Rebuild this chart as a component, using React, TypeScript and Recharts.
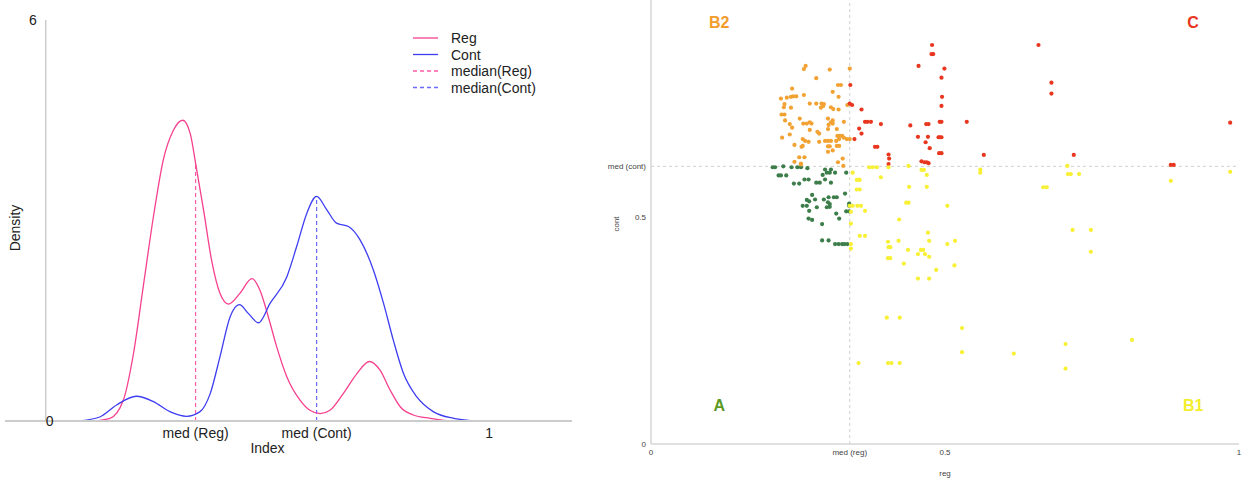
import React from 'react';
import {
  LineChart, Line, XAxis, YAxis, ReferenceLine, ReferenceDot, Legend,
  ScatterChart, Scatter,
} from 'recharts';

const FONT = '"Liberation Sans", Arial, sans-serif';

// ---------- Density panel data ----------
const MED_REG = 0.338;
const MED_CONT = 0.611;
const medRegDensity = 3.86;
const medContDensity = 3.36;

const regX = [0.107, 0.145, 0.175, 0.198, 0.22, 0.243, 0.265, 0.288, 0.309, 0.326, 0.338, 0.356, 0.374, 0.393, 0.412, 0.438, 0.465, 0.483, 0.502, 0.521, 0.544, 0.574, 0.596, 0.619, 0.641, 0.671, 0.702, 0.73, 0.754, 0.777, 0.8, 0.829, 0.867, 0.912];
const regY = [0, 0.04, 0.31, 1.01, 2.01, 3.06, 3.9, 4.35, 4.5, 4.3, 3.86, 3.16, 2.41, 1.91, 1.75, 1.91, 2.13, 1.96, 1.56, 1.11, 0.66, 0.31, 0.16, 0.11, 0.16, 0.41, 0.71, 0.89, 0.76, 0.46, 0.21, 0.09, 0.04, 0];

const contX = [0.074, 0.122, 0.16, 0.204, 0.243, 0.28, 0.318, 0.348, 0.371, 0.393, 0.416, 0.437, 0.457, 0.48, 0.506, 0.544, 0.566, 0.589, 0.611, 0.634, 0.656, 0.683, 0.709, 0.739, 0.762, 0.784, 0.807, 0.837, 0.874, 0.92, 0.976];
const contY = [0, 0.06, 0.24, 0.37, 0.29, 0.14, 0.07, 0.14, 0.41, 0.96, 1.56, 1.74, 1.61, 1.47, 1.76, 2.16, 2.61, 3.11, 3.36, 3.16, 2.96, 2.91, 2.71, 2.26, 1.76, 1.21, 0.71, 0.36, 0.14, 0.04, 0];

const densityTicks = [MED_REG, MED_CONT, 1];
const densityTickLabels = ['med (Reg)', 'med (Cont)', '1'];
const densityYTicks = [0, 6];

const legendLabels = ['Reg', 'Cont', 'median(Reg)', 'median(Cont)'];

// ---------- Scatter panel data ----------
const aPts = [[0.207,0.609],[0.211,0.609],[0.225,0.611],[0.239,0.609],[0.249,0.609],[0.255,0.609],[0.266,0.607],[0.296,0.604],[0.306,0.604],[0.292,0.592],[0.299,0.597],[0.304,0.597],[0.313,0.597],[0.332,0.597],[0.217,0.591],[0.221,0.591],[0.230,0.591],[0.261,0.582],[0.268,0.582],[0.296,0.582],[0.243,0.573],[0.252,0.573],[0.281,0.575],[0.287,0.575],[0.306,0.575],[0.274,0.548],[0.330,0.551],[0.265,0.537],[0.269,0.534],[0.279,0.538],[0.294,0.538],[0.302,0.543],[0.311,0.543],[0.316,0.543],[0.301,0.532],[0.304,0.528],[0.337,0.529],[0.337,0.524],[0.258,0.524],[0.265,0.524],[0.282,0.521],[0.299,0.521],[0.304,0.522],[0.269,0.513],[0.332,0.512],[0.337,0.512],[0.315,0.507],[0.268,0.496],[0.274,0.493],[0.320,0.496],[0.291,0.484],[0.291,0.448],[0.302,0.448],[0.313,0.440],[0.319,0.440],[0.325,0.440],[0.329,0.440],[0.334,0.440]];

const b2Pts = [[0.263,0.832],[0.260,0.825],[0.304,0.824],[0.338,0.826],[0.281,0.805],[0.323,0.790],[0.318,0.790],[0.240,0.782],[0.309,0.775],[0.260,0.768],[0.221,0.760],[0.231,0.762],[0.238,0.764],[0.242,0.765],[0.247,0.765],[0.319,0.764],[0.227,0.748],[0.270,0.749],[0.281,0.749],[0.290,0.749],[0.294,0.748],[0.334,0.746],[0.226,0.741],[0.238,0.740],[0.289,0.740],[0.293,0.744],[0.306,0.741],[0.310,0.737],[0.319,0.736],[0.222,0.725],[0.227,0.725],[0.253,0.716],[0.301,0.716],[0.228,0.712],[0.309,0.712],[0.259,0.705],[0.265,0.705],[0.270,0.708],[0.273,0.705],[0.306,0.708],[0.309,0.705],[0.302,0.702],[0.236,0.704],[0.328,0.709],[0.240,0.696],[0.270,0.691],[0.283,0.687],[0.286,0.683],[0.301,0.693],[0.316,0.693],[0.236,0.681],[0.223,0.674],[0.317,0.678],[0.321,0.678],[0.325,0.678],[0.328,0.674],[0.333,0.671],[0.338,0.671],[0.320,0.671],[0.258,0.671],[0.262,0.667],[0.268,0.665],[0.286,0.665],[0.296,0.667],[0.301,0.667],[0.306,0.667],[0.315,0.667],[0.258,0.656],[0.256,0.654],[0.244,0.658],[0.301,0.655],[0.304,0.655],[0.316,0.656],[0.320,0.656],[0.301,0.643],[0.309,0.646],[0.252,0.631],[0.261,0.631],[0.326,0.628],[0.244,0.621],[0.255,0.617],[0.318,0.620],[0.255,0.615],[0.327,0.612]];

const cPts = [[0.339,0.790],[0.338,0.749],[0.342,0.746],[0.358,0.736],[0.364,0.709],[0.368,0.709],[0.374,0.709],[0.391,0.704],[0.354,0.694],[0.346,0.671],[0.358,0.683],[0.381,0.654],[0.385,0.654],[0.404,0.637],[0.405,0.628],[0.404,0.616],[0.478,0.878],[0.477,0.858],[0.480,0.858],[0.455,0.832],[0.499,0.826],[0.494,0.806],[0.659,0.878],[0.681,0.795],[0.681,0.771],[0.495,0.764],[0.494,0.744],[0.494,0.709],[0.491,0.709],[0.537,0.709],[0.468,0.704],[0.472,0.704],[0.441,0.701],[0.454,0.676],[0.471,0.676],[0.489,0.675],[0.491,0.675],[0.494,0.675],[0.467,0.664],[0.474,0.651],[0.490,0.640],[0.494,0.640],[0.566,0.636],[0.719,0.636],[0.460,0.622],[0.465,0.620],[0.469,0.620],[0.472,0.618],[0.985,0.707],[0.884,0.614],[0.889,0.614]];

const b1Pts = [[0.343,0.597],[0.371,0.609],[0.377,0.609],[0.384,0.609],[0.404,0.609],[0.350,0.581],[0.353,0.582],[0.355,0.581],[0.391,0.587],[0.350,0.560],[0.355,0.560],[0.338,0.524],[0.343,0.524],[0.351,0.524],[0.357,0.524],[0.340,0.511],[0.364,0.513],[0.340,0.485],[0.355,0.458],[0.364,0.458],[0.340,0.440],[0.340,0.430],[0.403,0.445],[0.421,0.447],[0.422,0.494],[0.438,0.612],[0.460,0.603],[0.464,0.603],[0.469,0.592],[0.560,0.604],[0.560,0.597],[0.439,0.566],[0.469,0.566],[0.434,0.531],[0.438,0.531],[0.504,0.524],[0.471,0.465],[0.473,0.447],[0.517,0.447],[0.504,0.440],[0.404,0.433],[0.407,0.433],[0.437,0.427],[0.459,0.427],[0.463,0.427],[0.454,0.418],[0.466,0.418],[0.473,0.412],[0.403,0.409],[0.407,0.409],[0.430,0.397],[0.516,0.393],[0.485,0.383],[0.454,0.364],[0.473,0.364],[0.401,0.278],[0.423,0.278],[0.529,0.255],[0.529,0.202],[0.353,0.178],[0.403,0.178],[0.409,0.178],[0.423,0.178],[0.708,0.612],[0.709,0.594],[0.714,0.594],[0.728,0.594],[0.667,0.565],[0.673,0.565],[0.884,0.579],[0.985,0.599],[0.717,0.471],[0.748,0.471],[0.748,0.423],[0.705,0.220],[0.818,0.229],[0.705,0.166],[0.617,0.199]];

const scatterXTicks = [0, MED_REG, 0.5, 1];
const scatterXTickLabels = ['0', 'med (reg)', '0.5', '1'];
const scatterYTicks = [0, 0.5, MED_CONT];
const scatterYTickLabels = ['0', '0.5', 'med (cont)'];

const quadrantLabels = ['A', 'B1', 'B2', 'C'];

// ---------- styles ----------
const PINK = '#f5408f';
const BLUE = '#3d3df2';
const PINK_DASH = '#ff5aa6';
const BLUE_DASH = '#6a6aff';
const legendColors = [PINK, BLUE, PINK_DASH, BLUE_DASH];
const legendDashed = [false, false, true, true];

const GREEN = '#3c7d4a';
const ORANGE = '#f2a233';
const RED = '#e8361f';
const YELLOW = '#f7f034';
const quadColors = ['#5c9a23', '#f4ee2c', '#f29c2c', '#e8361f'];
const quadPos = [[0.116, 0.086], [0.922, 0.086], [0.116, 0.928], [0.922, 0.928]];

const regData = regX.map((x, i) => ({ x, y: regY[i] }));
const contData = contX.map((x, i) => ({ x, y: contY[i] }));
const toObjs = (pts: number[][]) => pts.map(([x, y]) => ({ x, y }));

const dotShape = (color: string) => (p: any) => (
  <circle cx={p.cx} cy={p.cy} r={2.1} fill={color} />
);

const ScatterYTick = (p: any) => {
  const idx = scatterYTicks.indexOf(p.payload.value);
  return (
    <text x={p.x} y={p.y} dy={3} textAnchor="end" fontSize={8} fill="#444" fontFamily={FONT}>
      {scatterYTickLabels[idx] ?? ''}
    </text>
  );
};

const ScatterXTick = (p: any) => {
  const idx = scatterXTicks.indexOf(p.payload.value);
  return (
    <text x={p.x} y={p.y} dy={6} textAnchor="middle" fontSize={8} fill="#444" fontFamily={FONT}>
      {scatterXTickLabels[idx] ?? ''}
    </text>
  );
};

const DensityLegend = () => (
  <svg width={160} height={70} style={{ display: 'block', fontFamily: FONT }}>
    {legendLabels.map((lab, i) => {
      const cy = 9 + i * 16.5;
      return (
        <g key={lab}>
          <line x1={0} x2={25} y1={cy} y2={cy} stroke={legendColors[i]} strokeWidth={1.3}
            strokeDasharray={legendDashed[i] ? '4 3' : undefined} />
          <text x={38} y={cy + 5} fontSize={14} fill="#222">{lab}</text>
        </g>
      );
    })}
  </svg>
);

export default function App() {
  return (
    <div style={{ position: 'absolute', left: 0, top: 0, width: 1254, height: 486, background: '#fff', fontFamily: FONT }}>
      {/* Left: density chart */}
      <div style={{ position: 'absolute', left: 0, top: 0 }}>
        <LineChart width={600} height={486} margin={{ top: 20, right: 28, bottom: 35, left: 5 }}>
          <XAxis
            type="number" dataKey="x" domain={[-0.0918, 1.187]} allowDataOverflow
            ticks={densityTicks}
            tickFormatter={(v: number) => densityTickLabels[densityTicks.indexOf(v)] ?? ''}
            tickLine={false} tickMargin={1}
            axisLine={{ stroke: '#cccccc', strokeWidth: 2 }}
            tick={{ fill: '#222', fontSize: 14, fontFamily: FONT }}
            height={30}
            label={{ value: 'Index', position: 'insideBottom', offset: -2, dx: -21, fill: '#222', fontSize: 14, fontFamily: FONT }}
          />
          <YAxis hide type="number" domain={[0, 6]} ticks={densityYTicks} />
          <ReferenceLine x={0} stroke="#cccccc" strokeWidth={1.5} />
          <ReferenceDot x={0} y={6} r={0} fill="none" stroke="none"
            label={{ value: String(densityYTicks[1]), position: 'left', offset: 9, fill: '#222', fontSize: 14, fontFamily: FONT }} />
          <ReferenceDot x={0} y={0} r={0} fill="none" stroke="none"
            label={{ value: String(densityYTicks[0]), position: 'right', offset: 0, fill: '#222', fontSize: 14, fontFamily: FONT }} />
          <ReferenceLine segment={[{ x: MED_REG, y: 0 }, { x: MED_REG, y: medRegDensity }]}
            stroke={PINK_DASH} strokeWidth={1.2} strokeDasharray="4 3" />
          <ReferenceLine segment={[{ x: MED_CONT, y: 0 }, { x: MED_CONT, y: medContDensity }]}
            stroke={BLUE_DASH} strokeWidth={1.2} strokeDasharray="4 3" />
          <Line data={regData} dataKey="y" name="Reg" type="monotone" stroke={PINK} strokeWidth={1.3}
            dot={false} activeDot={false} isAnimationActive={false} />
          <Line data={contData} dataKey="y" name="Cont" type="monotone" stroke={BLUE} strokeWidth={1.3}
            dot={false} activeDot={false} isAnimationActive={false} />
          <Legend layout="horizontal" verticalAlign="middle" align="center"
            wrapperStyle={{ left: 413, top: 29, width: 160, height: 70 }}
            content={() => <DensityLegend />} />
        </LineChart>
        <div style={{ position: 'absolute', left: 14.5, top: 228, transform: 'translate(-50%, -50%) rotate(-90deg)', fontSize: 14, color: '#222', whiteSpace: 'nowrap', fontFamily: FONT }}>Density</div>
      </div>

      {/* Right: scatter chart */}
      <div style={{ position: 'absolute', left: 600, top: 0 }}>
        <ScatterChart width={654} height={486} margin={{ top: 0, right: 15, bottom: 6, left: 0 }}>
          <XAxis
            type="number" dataKey="x" domain={[0, 1]} allowDataOverflow
            ticks={scatterXTicks}
            tickLine={false} tickSize={0} tickMargin={5}
            axisLine={{ stroke: '#d6d6d6', strokeWidth: 1.5 }}
            tick={<ScatterXTick />}
            height={36}
            label={{ value: 'reg', position: 'insideBottom', offset: 4, fill: '#444', fontSize: 8, fontFamily: FONT }}
          />
          <YAxis
            type="number" dataKey="y" domain={[0, 0.977]} allowDataOverflow
            ticks={scatterYTicks}
            tickLine={false} tickSize={0} tickMargin={5}
            axisLine={{ stroke: '#d6d6d6', strokeWidth: 1.5 }}
            tick={<ScatterYTick />}
            width={51}
            label={{ value: 'cont', angle: -90, position: 'center', dx: -9, dy: 2, fill: '#444', fontSize: 8, fontFamily: FONT }}
          />
          <ReferenceLine x={MED_REG} stroke="#cfcfcf" strokeDasharray="3 3" />
          <ReferenceLine y={MED_CONT} stroke="#cfcfcf" strokeDasharray="3 3" />
          <Scatter data={toObjs(aPts)} fill={GREEN} shape={dotShape(GREEN)} isAnimationActive={false} />
          <Scatter data={toObjs(b2Pts)} fill={ORANGE} shape={dotShape(ORANGE)} isAnimationActive={false} />
          <Scatter data={toObjs(cPts)} fill={RED} shape={dotShape(RED)} isAnimationActive={false} />
          <Scatter data={toObjs(b1Pts)} fill={YELLOW} shape={dotShape(YELLOW)} isAnimationActive={false} />
          {quadrantLabels.map((q, i) => (
            <ReferenceDot key={q} x={quadPos[i][0]} y={quadPos[i][1]} r={0} fill="none" stroke="none"
              label={{ value: q, position: 'center', fill: quadColors[i], fontSize: 16, fontWeight: 'bold', fontFamily: FONT }} />
          ))}
        </ScatterChart>
      </div>
    </div>
  );
}
